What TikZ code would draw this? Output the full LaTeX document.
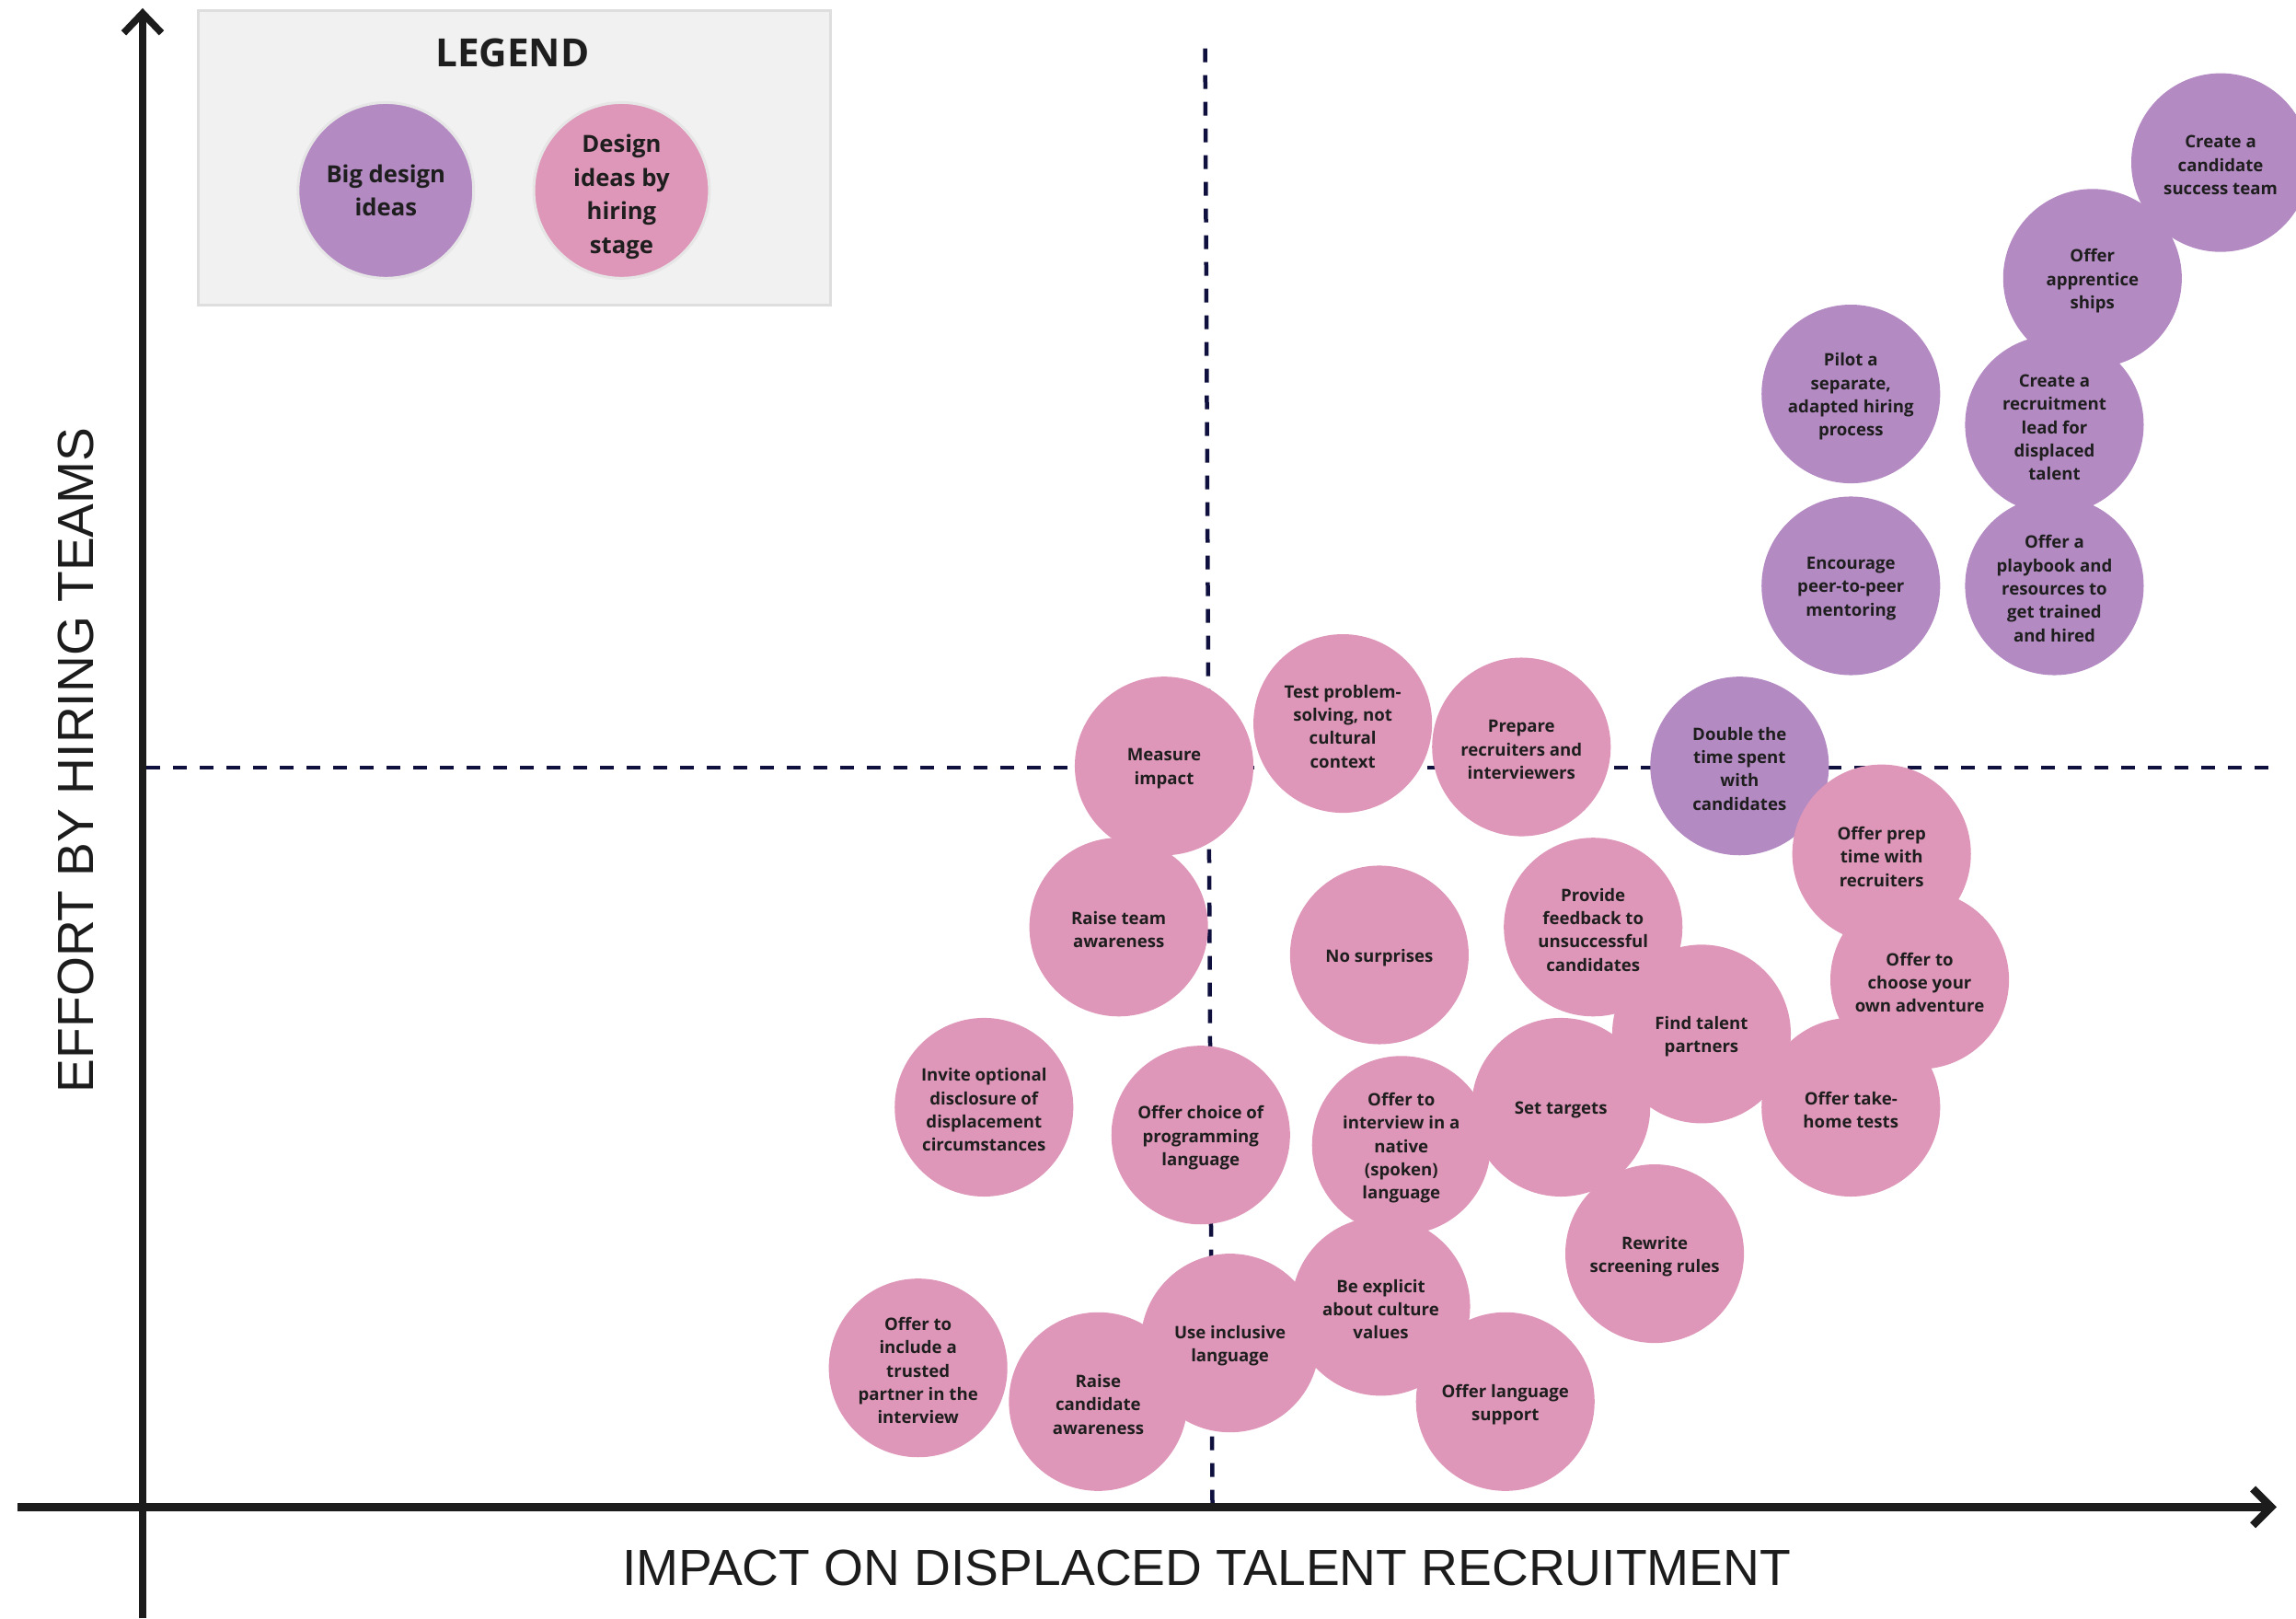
\documentclass[tikz,border=0pt]{standalone}
\usepackage{fontspec}
\setmainfont{Open Sans}
\newfontfamily\axisfont{Liberation Sans}
\definecolor{pinkc}{HTML}{DE97B8}
\definecolor{purplec}{HTML}{B48AC3}
\definecolor{navy}{HTML}{10103F}
\definecolor{axisc}{HTML}{1C1C1C}
\definecolor{legfill}{HTML}{F1F1F1}
\definecolor{legline}{HTML}{DEDEDE}
\definecolor{legring}{HTML}{E6E6E6}
\definecolor{txt}{HTML}{1E1E1E}
\begin{document}
\begin{tikzpicture}[x=0.15912mm, y=-0.15912mm,
  bubble/.style={circle, minimum size=19.41mm, inner sep=0, draw=none},
  bigidea/.style={bubble, fill=purplec},
  stageidea/.style={bubble, fill=pinkc},
  lbl/.style={align=center, font=\fontsize{5.3}{7.2}\selectfont\bfseries, text=txt, inner sep=0, yshift=-0.3mm},
  leglbl/.style={align=center, font=\fontsize{7.3}{10.4}\selectfont\bfseries, text=txt, inner sep=0},
  legcirc/.style={circle, minimum size=19.09mm, inner sep=0, draw=legring, line width=0.3mm},
  quad/.style={draw=navy, line width=0.45mm, dash pattern=on 1.5mm off 1.4mm},
  axisline/.style={draw=axisc, line width=0.75mm},
  axistip/.style={draw=axisc, line width=0.75mm, line join=miter},
  axislbl/.style={font=\axisfont\fontsize{15.7}{18}\selectfont, text=axisc, inner sep=0},
  ]
\useasboundingbox (0,0) rectangle (1568,1105);

% quadrant dashed lines
\coordinate (vt) at (823,33);
\coordinate (vb) at (828,1027);
\coordinate (hl) at (100,524);
\coordinate (hr) at (1553,524);
\draw[quad] (vt) -- (vb);
\draw[quad] (hl) -- (hr);

% legend
\node (legend) [rectangle, draw=legline, fill=legfill, line width=0.3mm, minimum width=68.66mm, minimum height=31.98mm, anchor=north west, inner sep=0] at (134.5,6.5) {};
\node (legtitle) [font=\fontsize{12}{14}\selectfont\bfseries, text=txt, inner sep=0] at (350,36) {LEGEND};
\node (legbig) [legcirc, fill=purplec] at (263.5,130) {};
\node (legstage) [legcirc, fill=pinkc] at (424.5,130) {};
\node[leglbl] at (legbig) {Big design\\ideas};
\node[leglbl] at ([yshift=-0.7mm]legstage.center) {Design\\ideas by\\hiring\\stage};

% big design ideas (purple)
\node (candteam) [bigidea] at (1516.5,111) {};
\node (apprent) [bigidea] at (1429,190) {};
\node (pilot) [bigidea] at (1264,269) {};
\node (reclead) [bigidea] at (1403,290) {};
\node (mentor) [bigidea] at (1264,400) {};
\node (playbook) [bigidea] at (1403,400) {};
\node (double) [bigidea] at (1188,523) {};

% design ideas by hiring stage (pink)
\node (measure) [stageidea] at (795,523) {};
\node (testps) [stageidea] at (917,494) {};
\node (prepare) [stageidea] at (1039,510) {};
\node (preptime) [stageidea] at (1285,583) {};
\node (raiseteam) [stageidea] at (764,633) {};
\node (nosurp) [stageidea] at (942,652) {};
\node (feedback) [stageidea] at (1088,633) {};
\node (adventure) [stageidea] at (1311,669) {};
\node (partners) [stageidea] at (1162,706) {};
\node (invite) [stageidea] at (672,756) {};
\node (proglang) [stageidea] at (820,775) {};
\node (native) [stageidea] at (957,782) {};
\node (targets) [stageidea] at (1066,756) {};
\node (takehome) [stageidea] at (1264,756) {};
\node (rewrite) [stageidea] at (1130,856) {};
\node (explicit) [stageidea] at (943,892) {};
\node (inclusive) [stageidea] at (840,917) {};
\node (trusted) [stageidea] at (627,934) {};
\node (raisecand) [stageidea] at (750,957) {};
\node (langsup) [stageidea] at (1028,957) {};

% labels
\node[lbl] at (candteam) {Create a\\candidate\\success team};
\node[lbl] at (apprent) {Offer\\apprentice\\ships};
\node[lbl] at (pilot) {Pilot a\\separate,\\adapted hiring\\process};
\node[lbl] at (reclead) {Create a\\recruitment\\lead for\\displaced\\talent};
\node[lbl] at (mentor) {Encourage\\peer-to-peer\\mentoring};
\node[lbl] at (playbook) {Offer a\\playbook and\\resources to\\get trained\\and hired};
\node[lbl] at (double) {Double the\\time spent\\with\\candidates};
\node[lbl] at (measure) {Measure\\impact};
\node[lbl] at (testps) {Test problem-\\solving, not\\cultural\\context};
\node[lbl] at (prepare) {Prepare\\recruiters and\\interviewers};
\node[lbl] at (preptime) {Offer prep\\time with\\recruiters};
\node[lbl] at (raiseteam) {Raise team\\awareness};
\node[lbl] at (nosurp) {No surprises};
\node[lbl] at (feedback) {Provide\\feedback to\\unsuccessful\\candidates};
\node[lbl] at (adventure) {Offer to\\choose your\\own adventure};
\node[lbl] at (partners) {Find talent\\partners};
\node[lbl] at (invite) {Invite optional\\disclosure of\\displacement\\circumstances};
\node[lbl] at (proglang) {Offer choice of\\programming\\language};
\node[lbl] at (native) {Offer to\\interview in a\\native\\(spoken)\\language};
\node[lbl] at (targets) {Set targets};
\node[lbl] at (takehome) {Offer take-\\home tests};
\node[lbl] at (rewrite) {Rewrite\\screening rules};
\node[lbl] at (explicit) {Be explicit\\about culture\\values};
\node[lbl] at (inclusive) {Use inclusive\\language};
\node[lbl] at (trusted) {Offer to\\include a\\trusted\\partner in the\\interview};
\node[lbl] at (raisecand) {Raise\\candidate\\awareness};
\node[lbl] at (langsup) {Offer language\\support};

% axes
\coordinate (ybot) at (97.4,1105);
\coordinate (ytop) at (97.4,9);
\coordinate (yl) at (84.5,22.5);
\coordinate (yr) at (110.3,22.5);
\coordinate (xleft) at (12,1029);
\coordinate (xright) at (1551,1029);
\coordinate (xu) at (1538.5,1016.5);
\coordinate (xd) at (1538.5,1041.5);
\draw[axisline] (ybot) -- (ytop);
\draw[axistip] (yl) -- (ytop) -- (yr);
\draw[axisline, line width=0.85mm] (xleft) -- (xright);
\draw[axistip, line width=0.85mm] (xu) -- (xright) -- (xd);

\node (xlabel) [axislbl, anchor=base] at (824,1082.6) {IMPACT ON DISPLACED TALENT RECRUITMENT};
\node (ylabel) [axislbl, anchor=base, rotate=90] at (64,519) {EFFORT BY HIRING TEAMS};
\end{tikzpicture}
\end{document}
